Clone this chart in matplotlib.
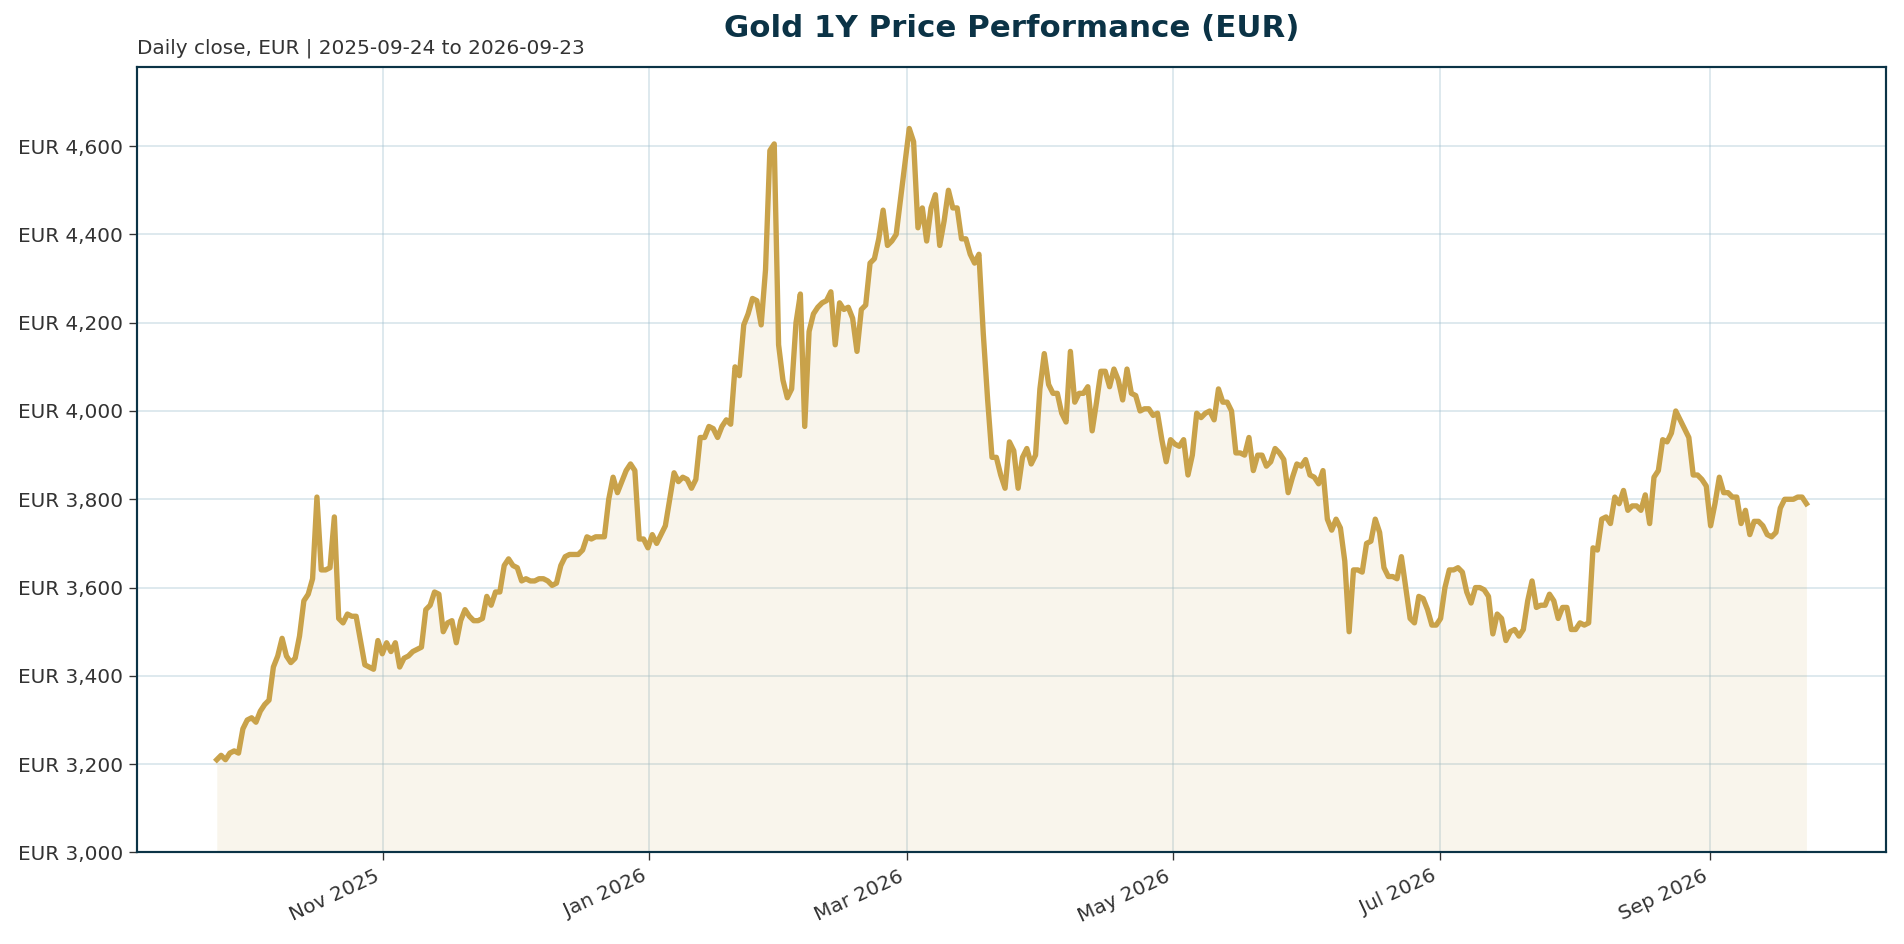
import matplotlib
matplotlib.use("Agg")
import matplotlib.pyplot as plt
import matplotlib.dates as mdates
from matplotlib.ticker import FuncFormatter
import pandas as pd

start_date = "2025-09-24"
end_date = "2026-09-23"

prices = [
    3210, 3220, 3210, 3225, 3230, 3225, 3280, 3300, 3305, 3295, 3320, 3335, 3345, 3420, 3445, 3485,
    3445, 3430, 3440, 3490, 3570, 3585, 3620, 3805, 3640, 3640, 3645, 3760, 3530, 3520, 3540, 3535,
    3535, 3480, 3425, 3420, 3415, 3480, 3450, 3475, 3455, 3475, 3420, 3440, 3445, 3455, 3460, 3465,
    3550, 3560, 3590, 3585, 3500, 3520, 3525, 3475, 3525, 3550, 3535, 3525, 3525, 3530, 3580, 3560,
    3590, 3590, 3650, 3665, 3650, 3645, 3615, 3620, 3615, 3615, 3620, 3620, 3615, 3605, 3610, 3650,
    3670, 3675, 3675, 3675, 3685, 3715, 3710, 3715, 3715, 3715, 3800, 3850, 3815, 3840, 3865, 3880,
    3865, 3710, 3710, 3690, 3720, 3700, 3720, 3740, 3800, 3860, 3840, 3850, 3845, 3825, 3845, 3940,
    3940, 3965, 3960, 3940, 3965, 3980, 3970, 4100, 4080, 4195, 4220, 4255, 4250, 4195, 4320, 4590,
    4605, 4150, 4070, 4030, 4050, 4200, 4265, 3965, 4180, 4220, 4235, 4245, 4250, 4270, 4150, 4245,
    4230, 4235, 4210, 4135, 4230, 4240, 4335, 4345, 4390, 4455, 4375, 4385, 4400, 4480, 4560, 4640,
    4610, 4415, 4460, 4385, 4460, 4490, 4375, 4430, 4500, 4460, 4460, 4390, 4390, 4355, 4335, 4355,
    4175, 4025, 3895, 3895, 3855, 3825, 3930, 3910, 3825, 3895, 3915, 3880, 3900, 4050, 4130, 4060,
    4040, 4040, 3995, 3975, 4135, 4020, 4040, 4040, 4055, 3955, 4020, 4090, 4090, 4055, 4095, 4070,
    4025, 4095, 4040, 4035, 4000, 4005, 4005, 3990, 3995, 3935, 3885, 3935, 3925, 3920, 3935, 3855,
    3900, 3995, 3985, 3995, 4000, 3980, 4050, 4020, 4020, 4000, 3905, 3905, 3900, 3940, 3865, 3900,
    3900, 3875, 3885, 3915, 3905, 3890, 3815, 3850, 3880, 3875, 3890, 3855, 3850, 3835, 3865, 3755,
    3730, 3755, 3735, 3660, 3500, 3640, 3640, 3635, 3700, 3705, 3755, 3725, 3645, 3625, 3625, 3620,
    3670, 3600, 3530, 3520, 3580, 3575, 3550, 3515, 3515, 3530, 3600, 3640, 3640, 3645, 3635, 3590,
    3565, 3600, 3600, 3595, 3580, 3495, 3540, 3530, 3480, 3500, 3505, 3490, 3505, 3570, 3615, 3555,
    3560, 3560, 3585, 3570, 3530, 3555, 3555, 3505, 3505, 3520, 3515, 3520, 3690, 3685, 3755, 3760,
    3745, 3805, 3790, 3820, 3775, 3785, 3785, 3775, 3810, 3745, 3850, 3865, 3935, 3930, 3950, 4000,
    3980, 3960, 3940, 3855, 3855, 3845, 3830, 3740, 3790, 3850, 3815, 3815, 3805, 3805, 3745, 3775,
    3720, 3750, 3750, 3740, 3720, 3715, 3725, 3780, 3800, 3800, 3800, 3805, 3805, 3790,
]

title_text = "Gold 1Y Price Performance (EUR)"
subtitle_text = "Daily close, EUR | 2025-09-24 to 2026-09-23"

dates = pd.date_range(start_date, end_date, periods=len(prices))

line_color = "#C9A24A"
dark = "#0B3346"

fig = plt.figure(figsize=(1904 / 120, 944 / 120), dpi=120)
ax = fig.add_axes([0.0721, 0.097, 0.9184, 0.832])

ax.fill_between(dates, prices, 3000, color="#C9A24A", alpha=0.1, linewidth=0)
ax.plot(dates, prices, color=line_color, linewidth=3.2, solid_joinstyle="round")

ax.set_ylim(3000, max(prices) * 1.03)
ax.margins(x=0.05)
ax.yaxis.set_major_formatter(FuncFormatter(lambda v, p: f"EUR {v:,.0f}"))
ax.xaxis.set_major_locator(mdates.MonthLocator(bymonth=[1, 3, 5, 7, 9, 11]))
ax.xaxis.set_major_formatter(mdates.DateFormatter("%b %Y"))

ax.grid(True, color="#9FBFCF", alpha=0.45, linewidth=0.9)
ax.set_axisbelow(True)
for s in ax.spines.values():
    s.set_color(dark)
    s.set_linewidth(1.3)
ax.tick_params(axis="both", labelsize=12, colors="#333333", length=5)
for lbl in ax.get_xticklabels():
    lbl.set_rotation(25)
    lbl.set_ha("right")

ax.set_title(title_text, fontsize=18.5, fontweight="bold", color=dark, pad=18)
ax.text(0, 1.012, subtitle_text, transform=ax.transAxes, fontsize=12,
        color="#333333", ha="left", va="bottom")

fig.savefig("out.png", dpi=120)
